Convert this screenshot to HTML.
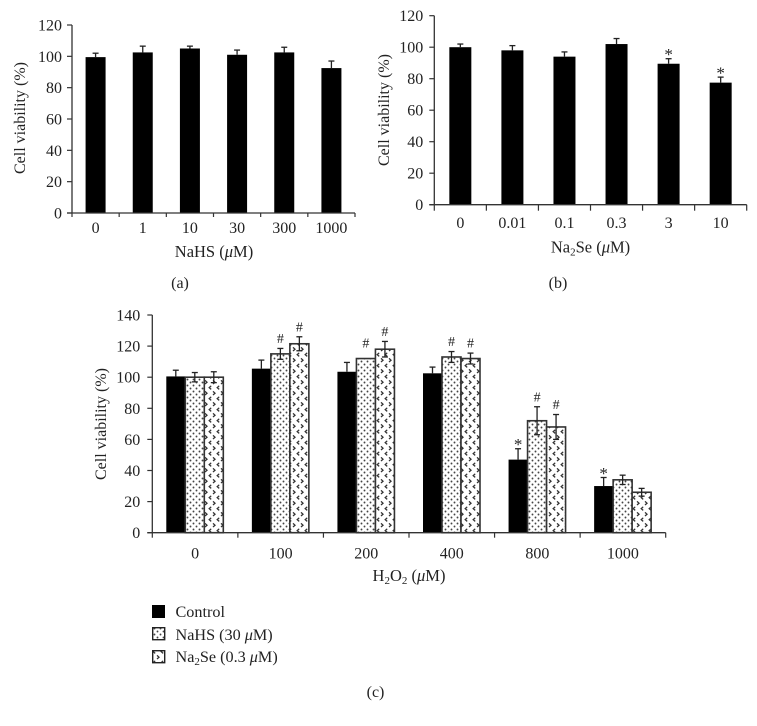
<!DOCTYPE html>
<html>
<head>
<meta charset="utf-8">
<title>Cell viability charts</title>
<style>
html,body{margin:0;padding:0;background:#fff;}
#chart{display:block;width:757px;height:726px;}
text{font-family:"Liberation Serif",serif;fill:#222;}
</style>
</head>
<body>
<svg id="chart" xmlns="http://www.w3.org/2000/svg" width="757" height="726" viewBox="0 0 757 726">
<defs>
<pattern id="dots" width="6" height="6" patternUnits="userSpaceOnUse">
<rect width="6" height="6" fill="#fff"/>
<circle cx="1.5" cy="1.5" r="0.95" fill="#444"/>
<circle cx="4.5" cy="4.5" r="0.95" fill="#444"/>
</pattern>
<pattern id="chevrons" width="8" height="11" patternUnits="userSpaceOnUse">
<rect width="8" height="11" fill="#fff"/>
<path d="M3.2 0.8L1.2 2.6L3.2 4.4" fill="none" stroke="#333" stroke-width="1.3"/>
<path d="M5 6.4L7 8.2L5 10" fill="none" stroke="#333" stroke-width="1.3"/>
</pattern>
</defs>
<g id="panel-a"></g>
<g id="panel-b"></g>
<g id="panel-c"></g>
<g>
<rect x="152" y="605" width="13" height="13" fill="#000"/>
<text x="175.5" y="617" font-size="16.2">Control</text>
<rect x="152.7" y="627.7" width="12" height="12" fill="url(#dots)" stroke="#222" stroke-width="1.4"/>
<text x="175.5" y="640" font-size="16.2">NaHS (30 <tspan font-style="italic">μ</tspan>M)</text>
<rect x="152.7" y="650.7" width="12" height="12" fill="url(#chevrons)" stroke="#222" stroke-width="1.4"/>
<text x="175.5" y="662" font-size="16.2">Na<tspan font-size="11" dy="3">2</tspan><tspan dy="-3">Se (0.3 </tspan><tspan font-style="italic">μ</tspan>M)</text>
</g>
<text x="180" y="288" font-size="16" text-anchor="middle">(a)</text>
<text x="558" y="288" font-size="16" text-anchor="middle">(b)</text>
<text x="375.5" y="697" font-size="16" text-anchor="middle">(c)</text>
<text x="214" y="257" font-size="16.5" text-anchor="middle">NaHS (<tspan font-style="italic">μ</tspan>M)</text>
<text x="590.5" y="252.5" font-size="16.5" text-anchor="middle">Na<tspan font-size="11" dy="3">2</tspan><tspan dy="-3">Se (</tspan><tspan font-style="italic">μ</tspan>M)</text>
<text x="409" y="581" font-size="16.5" text-anchor="middle">H<tspan font-size="11" dy="3">2</tspan><tspan dy="-3">O</tspan><tspan font-size="11" dy="3">2</tspan><tspan dy="-3"> (</tspan><tspan font-style="italic">μ</tspan>M)</text>
<text transform="translate(25,118) rotate(-90)" font-size="16" text-anchor="middle">Cell viability (%)</text>
<text transform="translate(389,110) rotate(-90)" font-size="16" text-anchor="middle">Cell viability (%)</text>
<text transform="translate(106,424) rotate(-90)" font-size="16" text-anchor="middle">Cell viability (%)</text>
</svg>
<script>
// Panel (a) data
const aCategories = ['0', '1', '10', '30', '300', '1000'];
const aValues = [99.5, 102.5, 105, 101, 102.5, 92.5];
const aErrors = [2.5, 4, 1.5, 3, 3.3, 4.5];
const aTicks = [0, 20, 40, 60, 80, 100, 120];

// Panel (b) data
const bCategories = ['0', '0.01', '0.1', '0.3', '3', '10'];
const bValues = [100, 98, 94, 102, 89.5, 77.5];
const bErrors = [2, 3, 3, 3.5, 3.2, 3.5];
const bMarks = ['', '', '', '', '*', '*'];
const bTicks = [0, 20, 40, 60, 80, 100, 120];

// Panel (c) data
const cCategories = ['0', '100', '200', '400', '800', '1000'];
const cControl = [100.5, 105.5, 103.5, 102.5, 47, 30];
const cNaHS = [100, 115, 112, 113, 72, 34];
const cNa2Se = [100, 121.5, 118, 112, 68, 26];
const cControlErr = [4, 5.5, 6, 4, 7, 5.5];
const cNaHSErr = [3, 3.5, 0, 3.5, 9, 3];
const cNa2SeErr = [3.5, 4.5, 5, 3.5, 8, 2.5];
const cControlMarks = ['', '', '', '', '*', '*'];
const cNaHSMarks = ['', '#', '#', '#', '#', ''];
const cNa2SeMarks = ['', '#', '#', '#', '#', ''];
const cTicks = [0, 20, 40, 60, 80, 100, 120, 140];

const NS = 'http://www.w3.org/2000/svg';
function add(parent, tag, attrs, txt) {
  const el = document.createElementNS(NS, tag);
  for (const k in attrs) el.setAttribute(k, attrs[k]);
  if (txt !== undefined) el.textContent = txt;
  parent.appendChild(el);
  return el;
}
function linear(d0, d1, r0, r1) {
  return v => r0 + (v - d0) * (r1 - r0) / (d1 - d0);
}
function axes(g, x0, x1, y0Px, y, ticks, cats, tickLen, labelY, labelGap) {
  const yAxis = add(g, 'line', {x1: x0, x2: x0, y1: y0Px, y2: y(ticks[ticks.length - 1]), stroke: '#333', 'stroke-width': 1.3});
  
  
  const xAxis = add(g, 'line', {x1: x0 - 5, x2: x1, y1: y0Px, y2: y0Px, stroke: '#333', 'stroke-width': 1.3});
  
  
  ticks.forEach(t => {
    const tk = add(g, 'line', {x1: x0 - 5, x2: x0, y1: y(t), y2: y(t), stroke: '#333', 'stroke-width': 1.2});
    
    
    const lb = add(g, 'text', {x: x0 - labelGap, y: y(t) + 5.5, 'font-size': 16, 'text-anchor': 'end'}, String(t));
    
    
  });
  const step = (x1 - x0) / cats.length;
  for (let i = 0; i <= cats.length; i++) {
    const tx = x0 + i * step;
    const tk = add(g, 'line', {x1: tx, x2: tx, y1: y0Px, y2: y0Px + tickLen, stroke: '#333', 'stroke-width': 1.2});
    
    
  }
  cats.forEach((c, i) => {
    const lb = add(g, 'text', {x: x0 + (i + 0.5) * step, y: labelY, 'font-size': 16, 'text-anchor': 'middle'}, c);
    
    
  });
}
function errorBar(g, cx, y, v, e, both) {
  if (!e) return;
  const top = y(v + e);
  const bottom = both ? y(v - e) : y(v);
  const stem = add(g, 'line', {x1: cx, x2: cx, y1: top, y2: bottom, stroke: '#222', 'stroke-width': 1.3});
  
  
  const cap = add(g, 'line', {x1: cx - 3, x2: cx + 3, y1: top, y2: top, stroke: '#222', 'stroke-width': 1.3});
  
  
  if (both) {
    const cap2 = add(g, 'line', {x1: cx - 3, x2: cx + 3, y1: bottom, y2: bottom, stroke: '#222', 'stroke-width': 1.3});
    
    
  }
}
// topPx is the pixel height of the top of the error bar above which the symbol sits
function mark(g, cx, topPx, s) {
  if (!s) return;
  const isStar = s === '*';
  const m = add(g, 'text', {x: cx, y: isStar ? topPx + 1.5 : topPx - 5.4, 'font-size': isStar ? 17 : 14, 'text-anchor': 'middle'}, s);
  
  
}

// Panel a
(function () {
  const g = document.getElementById('panel-a');
  const y = linear(0, 120, 213, 25);
  const x0 = 72, x1 = 355, step = (x1 - x0) / aCategories.length, w = 20;
  aValues.forEach((v, i) => {
    const cx = x0 + (i + 0.5) * step;
    const b = add(g, 'rect', {x: cx - w / 2, y: y(v), width: w, height: y(0) - y(v), fill: '#000'});
    
    
    errorBar(g, cx, y, v, aErrors[i], false);
  });
  axes(g, x0, x1, y(0), y, aTicks, aCategories, 4, 233, 10);
})();

// Panel b
(function () {
  const g = document.getElementById('panel-b');
  const y = linear(0, 120, 204.7, 15.7);
  const x0 = 434.3, x1 = 746.7, step = (x1 - x0) / bCategories.length, w = 22;
  bValues.forEach((v, i) => {
    const cx = x0 + (i + 0.5) * step;
    const b = add(g, 'rect', {x: cx - w / 2, y: y(v), width: w, height: y(0) - y(v), fill: '#000'});
    
    
    errorBar(g, cx, y, v, bErrors[i], false);
    mark(g, cx, y(v + bErrors[i]), bMarks[i]);
  });
  axes(g, x0, x1, y(0), y, bTicks, bCategories, 6, 228, 11);
})();

// Panel c
(function () {
  const g = document.getElementById('panel-c');
  const y = linear(0, 140, 532.7, 315);
  const x0 = 152.3, x1 = 665.7, step = (x1 - x0) / cCategories.length, w = 19;
  const series = [
    {vals: cControl, errs: cControlErr, marks: cControlMarks, fill: '#000', stroke: 'none', both: false, name: 'bar-control'},
    {vals: cNaHS, errs: cNaHSErr, marks: cNaHSMarks, fill: 'url(#dots)', stroke: '#333', both: true, name: 'bar-naHS-30'},
    {vals: cNa2Se, errs: cNa2SeErr, marks: cNa2SeMarks, fill: 'url(#chevrons)', stroke: '#333', both: true, name: 'bar-na2se-0-3'}
  ];
  cCategories.forEach((c, i) => {
    series.forEach((s, j) => {
      const left = x0 + i * step + 14 + j * w;
      const v = s.vals[i];
      const b = add(g, 'rect', {x: left, y: y(v), width: w, height: y(0) - y(v), fill: s.fill, stroke: s.stroke, 'stroke-width': 1.6});
      
      
    });
    series.forEach((s, j) => {
      const cx = x0 + i * step + 14 + (j + 0.5) * w;
      errorBar(g, cx, y, s.vals[i], s.errs[i], s.both);
      mark(g, cx, y(s.vals[i] + Math.max(s.errs[i], 3.5)), s.marks[i]);
    });
  });
  axes(g, x0, x1, y(0), y, cTicks, cCategories, 5, 558.5, 12);
})();
</script>
</body>
</html>
